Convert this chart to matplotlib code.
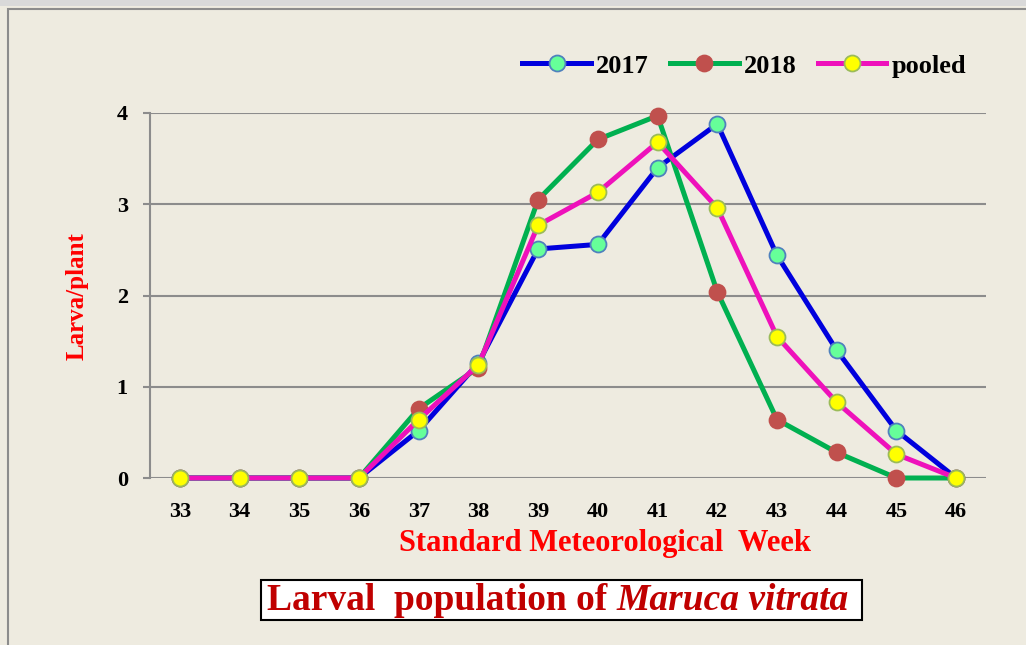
import matplotlib.pyplot as plt
from matplotlib.patches import Rectangle
from matplotlib.text import Annotation

# ---- data ----
weeks = [33, 34, 35, 36, 37, 38, 39, 40, 41, 42, 43, 44, 45, 46]
y2017 = [0, 0, 0, 0, 0.52, 1.26, 2.51, 2.56, 3.40, 3.88, 2.44, 1.40, 0.52, 0]
y2018 = [0, 0, 0, 0, 0.76, 1.21, 3.05, 3.71, 3.97, 2.04, 0.64, 0.28, 0, 0]
pooled = [0, 0, 0, 0, 0.64, 1.24, 2.77, 3.13, 3.68, 2.96, 1.55, 0.83, 0.26, 0]
yticks = [0, 1, 2, 3, 4]

BG = '#EEEBE0'
W, H = 1026, 645

plt.rcParams['font.family'] = ['Liberation Serif', 'DejaVu Serif']

fig = plt.figure(figsize=(W / 100, H / 100), dpi=100)
fig.patch.set_facecolor(BG)

# top grey strip and outer frame
fig.patches.append(Rectangle((0, 1 - 6 / H), 1, 6 / H, transform=fig.transFigure,
                             facecolor='#D9D9D9', edgecolor='none', zorder=0))
fig.patches.append(Rectangle((8 / W, -0.05), 1.1, 1 - 9 / H + 0.05, transform=fig.transFigure,
                             facecolor='none', edgecolor='#8C8C8C', lw=1.5, zorder=1))

ax = fig.add_axes([150 / W, (H - 478) / H, 836 / W, 365 / H])
ax.set_facecolor(BG)

series = [
    ('2017', y2017, '#0000DD', '#66FF99', '#4F81BD'),
    ('2018', y2018, '#00B050', '#C0504D', '#C0504D'),
    ('pooled', pooled, '#EE11BB', '#FFFF00', '#9BBB59'),
]
for name, vals, lc, mfc, mec in series:
    ax.plot(weeks, vals, color=lc, lw=3.6, marker='o', ms=11.5, mfc=mfc, mec=mec,
            mew=1.3, label=name, zorder=3, clip_on=False)

ax.set_xlim(32.5, 46.5)
ax.set_ylim(0, 4)
ax.set_xticks(weeks)
ax.set_yticks(yticks)
ax.grid(axis='y', color='#8C8C8C', lw=1.5, zorder=1)
for s in ['top', 'right', 'bottom']:
    ax.spines[s].set_visible(False)
ax.spines['left'].set_color('#8C8C8C')
ax.spines['left'].set_linewidth(1.5)
ax.tick_params(axis='y', length=5, width=1.5, color='#8C8C8C', pad=11, labelsize=16)
ax.tick_params(axis='x', length=0, pad=17, labelsize=16)
for lab in ax.get_xticklabels() + ax.get_yticklabels():
    lab.set_fontweight('bold')

fig.text(605 / W, 1 - 544 / H, 'Standard Meteorological  Week', color='#FF0000',
         fontsize=22, fontweight='bold', ha='center', va='center')
fig.text(77 / W, 1 - 296 / H, 'Larva/plant', color='#FF0000', fontsize=18,
         fontweight='bold', ha='center', va='center', rotation=90)

leg = fig.legend(loc='center right', bbox_to_anchor=(990 / W, 1 - 66 / H), ncol=3,
                 frameon=False, handlelength=2.6, handletextpad=0.2, columnspacing=0.8,
                 prop={'weight': 'bold', 'size': 19})

# title box
fig.patches.append(Rectangle((261 / W, 1 - 620 / H), 601 / W, 40 / H, transform=fig.transFigure,
                             facecolor='white', edgecolor='black', lw=1.5, zorder=1))
t1 = fig.text(267 / W, 1 - 601 / H, 'Larval  population of ', color='#C00000',
              fontsize=27, fontweight='bold', ha='left', va='center', zorder=2)
fig.add_artist(Annotation('Maruca vitrata', xy=(1, 0), xycoords=t1, color='#C00000',
                          fontsize=27, fontweight='bold', fontstyle='italic',
                          ha='left', va='bottom', zorder=2))

fig.savefig('out.png', dpi=100, facecolor=fig.get_facecolor())
